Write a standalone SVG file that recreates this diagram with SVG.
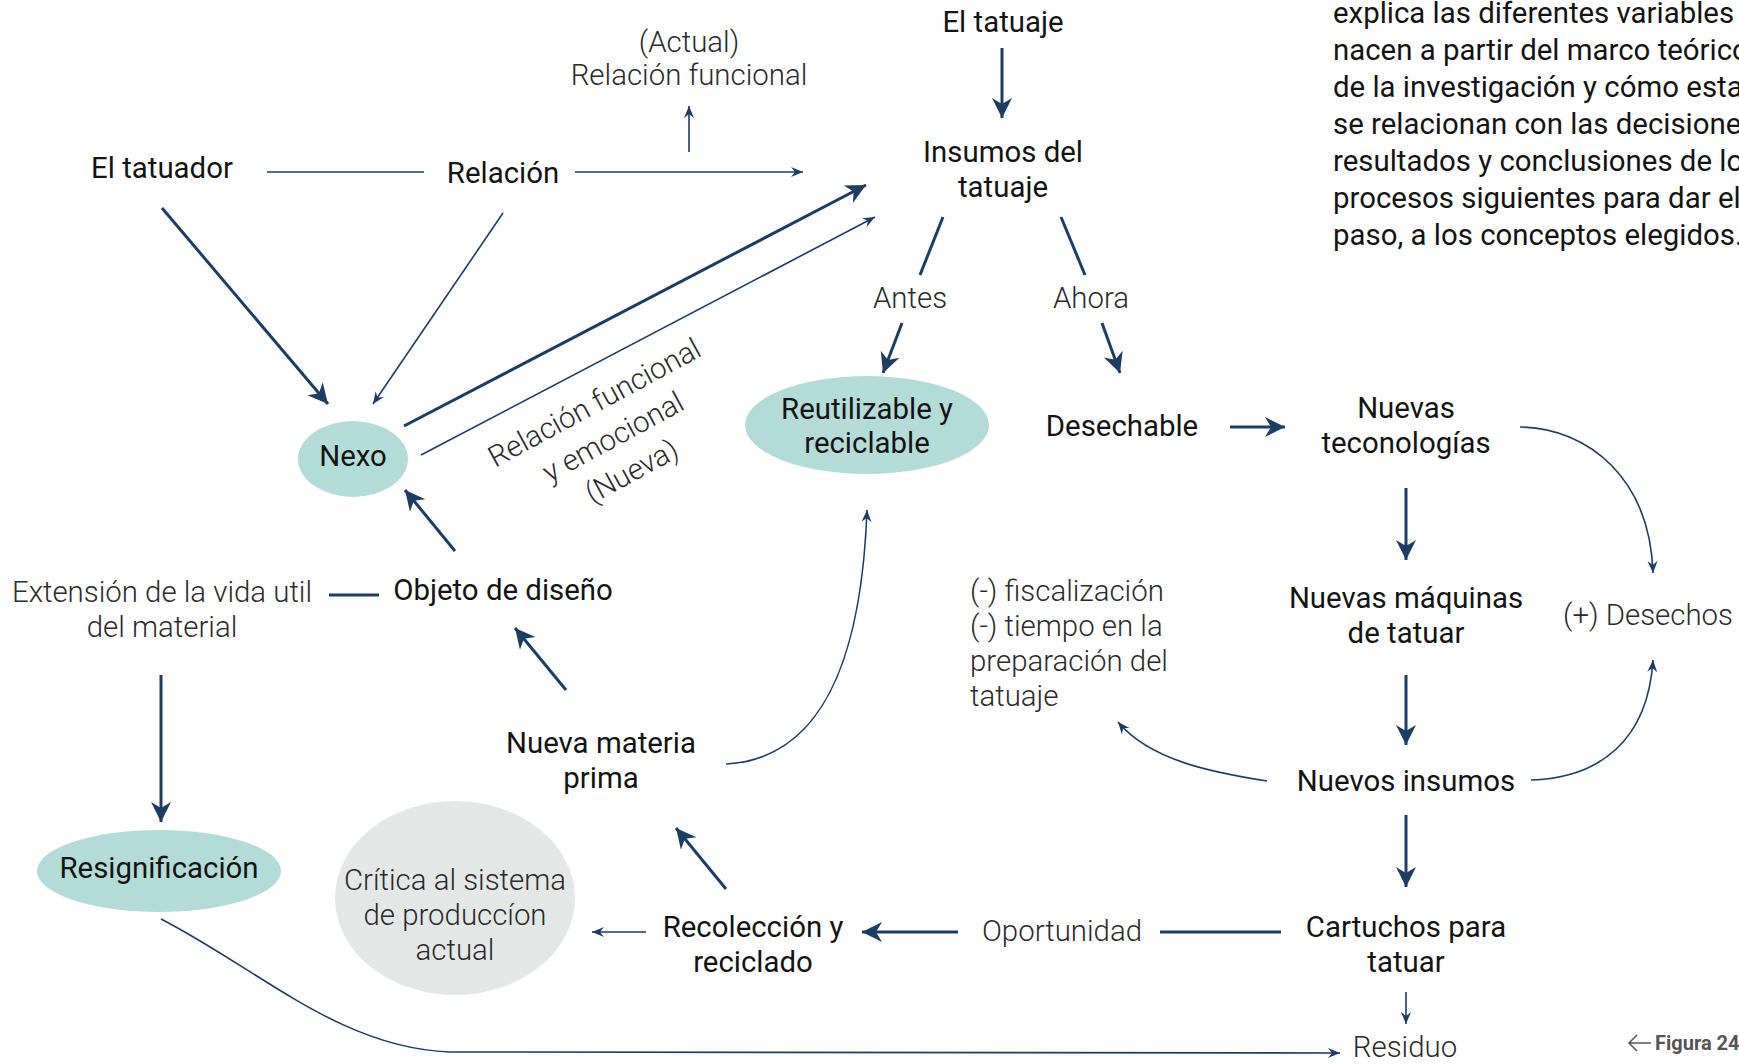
<svg xmlns="http://www.w3.org/2000/svg" width="1739" height="1064" viewBox="0 0 1739 1064">
<defs>
<style>
text{font-family:Roboto,"Liberation Sans",sans-serif;font-size:29.4px;fill:#141414}
.c{text-anchor:middle}
.l{font-weight:300;fill:#2b2b2b}
.thick{stroke:#1e3d63;stroke-width:3;fill:none}
.thin{stroke:#1e3d63;stroke-width:1.6;fill:none}
.big{marker-end:url(#ab)}
.small{marker-end:url(#as)}
.teal{fill:#b3dcd9}
.grey{fill:#e3e8e6}
</style>
<marker id="ab" markerUnits="userSpaceOnUse" viewBox="-21 -11 22 22" markerWidth="22" markerHeight="22" refX="0" refY="0" orient="auto">
<path d="M0,0 L-20,-10 L-14,0 L-20,10 Z" fill="#1e3d63"/>
</marker>
<marker id="as" markerUnits="userSpaceOnUse" viewBox="-13 -6 14 12" markerWidth="14" markerHeight="12" refX="0" refY="0" orient="auto">
<path d="M0,0 L-12,-5 L-8,0 L-12,5 Z" fill="#1e3d63"/>
</marker>
</defs>
<rect width="1739" height="1064" fill="#ffffff"/>

<g id="connectors">
<line class="thin" x1="267" y1="172" x2="424" y2="172"/>
<line class="thin small" x1="575" y1="172" x2="803" y2="172"/>
<line class="thin small" x1="689" y1="152" x2="689" y2="106"/>
<line class="thick big" x1="1002" y1="48" x2="1002" y2="118"/>
<line class="thick big" x1="162" y1="208" x2="328" y2="404"/>
<line class="thin small" x1="503" y1="213" x2="373" y2="404"/>
<line class="thick big" x1="404" y1="426" x2="866" y2="185"/>
<line class="thin small" x1="421" y1="455" x2="875" y2="217"/>
<line class="thick" x1="943" y1="217" x2="920" y2="275"/>
<line class="thick" x1="1061" y1="217" x2="1085" y2="275"/>
<line class="thick big" x1="902" y1="323" x2="883" y2="373"/>
<line class="thick big" x1="1102" y1="323" x2="1120" y2="373"/>
<line class="thick big" x1="1230" y1="427" x2="1285" y2="427"/>
<line class="thick big" x1="1406" y1="488" x2="1406" y2="560"/>
<path class="thin small" d="M1520,427 C1590,428 1650,480 1653,573"/>
<line class="thick big" x1="1406" y1="675" x2="1406" y2="745"/>
<line class="thick big" x1="1406" y1="815" x2="1406" y2="887"/>
<line class="thin small" x1="1406" y1="992" x2="1406" y2="1024"/>
<path class="thin small" d="M1267,781 C1210,772 1150,760 1118,722"/>
<path class="thin small" d="M1531,780 C1600,778 1648,740 1653,660"/>
<path class="thin small" d="M726,764 C800,760 860,700 867,510"/>
<line class="thick" x1="329" y1="595" x2="379" y2="595"/>
<line class="thick big" x1="455" y1="551" x2="405" y2="490"/>
<line class="thick big" x1="566" y1="690" x2="515" y2="628"/>
<line class="thick big" x1="726" y1="889" x2="676" y2="828"/>
<line class="thick big" x1="958" y1="932" x2="862" y2="932"/>
<line class="thin small" x1="646" y1="932" x2="592" y2="932"/>
<line class="thick" x1="1160" y1="932" x2="1281" y2="932"/>
<line class="thick big" x1="161" y1="675" x2="161" y2="822"/>
<path class="thin small" d="M161,919 C260,970 340,1048 450,1052 L1340,1053"/>
</g>

<g id="rel-nueva-label" transform="translate(613,437) rotate(-28.5)">
<text class="c l" x="0" y="-29">Relación funcional</text>
<text class="c l" x="0" y="10">y emocional</text>
<text class="c l" x="0" y="49">(Nueva)</text>
</g>

<g id="el-tatuaje"><text class="c" x="1003" y="32">El tatuaje</text></g>
<g id="actual"><text class="c l" x="689" y="52">(Actual)</text><text class="c l" x="689" y="85">Relación funcional</text></g>
<g id="el-tatuador"><text class="c" x="162" y="178">El tatuador</text></g>
<g id="relacion"><text class="c" x="503" y="183">Relación</text></g>
<g id="insumos"><text class="c" x="1003" y="162">Insumos del</text><text class="c" x="1003" y="197">tatuaje</text></g>
<g id="antes"><text class="c l" x="910" y="308">Antes</text></g>
<g id="ahora"><text class="c l" x="1091" y="308">Ahora</text></g>
<g id="nexo"><ellipse class="teal" cx="353" cy="459" rx="55" ry="38"/><text class="c" x="353" y="466">Nexo</text></g>
<g id="reutilizable"><ellipse class="teal" cx="867" cy="425" rx="122" ry="49"/><text class="c" x="867" y="419">Reutilizable y</text><text class="c" x="867" y="453">reciclable</text></g>
<g id="desechable"><text class="c" x="1122" y="436">Desechable</text></g>
<g id="nuevas-tecnologias"><text class="c" x="1406" y="418">Nuevas</text><text class="c" x="1406" y="453">teconologías</text></g>
<g id="nuevas-maquinas"><text class="c" x="1406" y="608">Nuevas máquinas</text><text class="c" x="1406" y="643">de tatuar</text></g>
<g id="desechos"><text class="c l" x="1648" y="625">(+) Desechos</text></g>
<g id="fiscalizacion">
<text class="l" x="970" y="601">(-) fiscalización</text>
<text class="l" x="970" y="636">(-) tiempo en la</text>
<text class="l" x="970" y="671">preparación del</text>
<text class="l" x="970" y="706">tatuaje</text>
</g>
<g id="extension"><text class="c l" x="162" y="602">Extensión de la vida util</text><text class="c l" x="162" y="637">del material</text></g>
<g id="objeto"><text class="c" x="503" y="600">Objeto de diseño</text></g>
<g id="nueva-materia"><text class="c" x="601" y="753">Nueva materia</text><text class="c" x="601" y="788">prima</text></g>
<g id="resignificacion"><ellipse class="teal" cx="159" cy="871" rx="122" ry="41"/><text class="c" x="159" y="878">Resignificación</text></g>
<g id="critica"><ellipse class="grey" cx="455" cy="898" rx="120" ry="97"/><text class="c l" x="455" y="890">Crítica al sistema</text><text class="c l" x="455" y="925">de produccíon</text><text class="c l" x="455" y="960">actual</text></g>
<g id="recoleccion"><text class="c" x="753" y="937">Recolección y</text><text class="c" x="753" y="972">reciclado</text></g>
<g id="oportunidad"><text class="c l" x="1062" y="941">Oportunidad</text></g>
<g id="nuevos-insumos"><text class="c" x="1406" y="791">Nuevos insumos</text></g>
<g id="cartuchos"><text class="c" x="1406" y="937">Cartuchos para</text><text class="c" x="1406" y="972">tatuar</text></g>
<g id="residuo"><text class="c l" x="1405" y="1057">Residuo</text></g>
<g id="figura">
<path d="M1651,1043 H1629 M1637,1035 L1629,1043 L1637,1051" stroke="#555" stroke-width="1.5" fill="none"/>
<text x="1655" y="1050" style="font-size:20px;font-weight:700;fill:#555">Figura 24</text>
</g>
<g id="paragraph">
<text x="1333" y="23">explica las diferentes variables</text>
<text x="1333" y="60">nacen a partir del marco teórico</text>
<text x="1333" y="97">de la investigación y cómo estas</text>
<text x="1333" y="134">se relacionan con las decisiones</text>
<text x="1333" y="171">resultados y conclusiones de los</text>
<text x="1333" y="208">procesos siguientes para dar el</text>
<text x="1333" y="245">paso, a los conceptos elegidos.</text>
</g>
</svg>
